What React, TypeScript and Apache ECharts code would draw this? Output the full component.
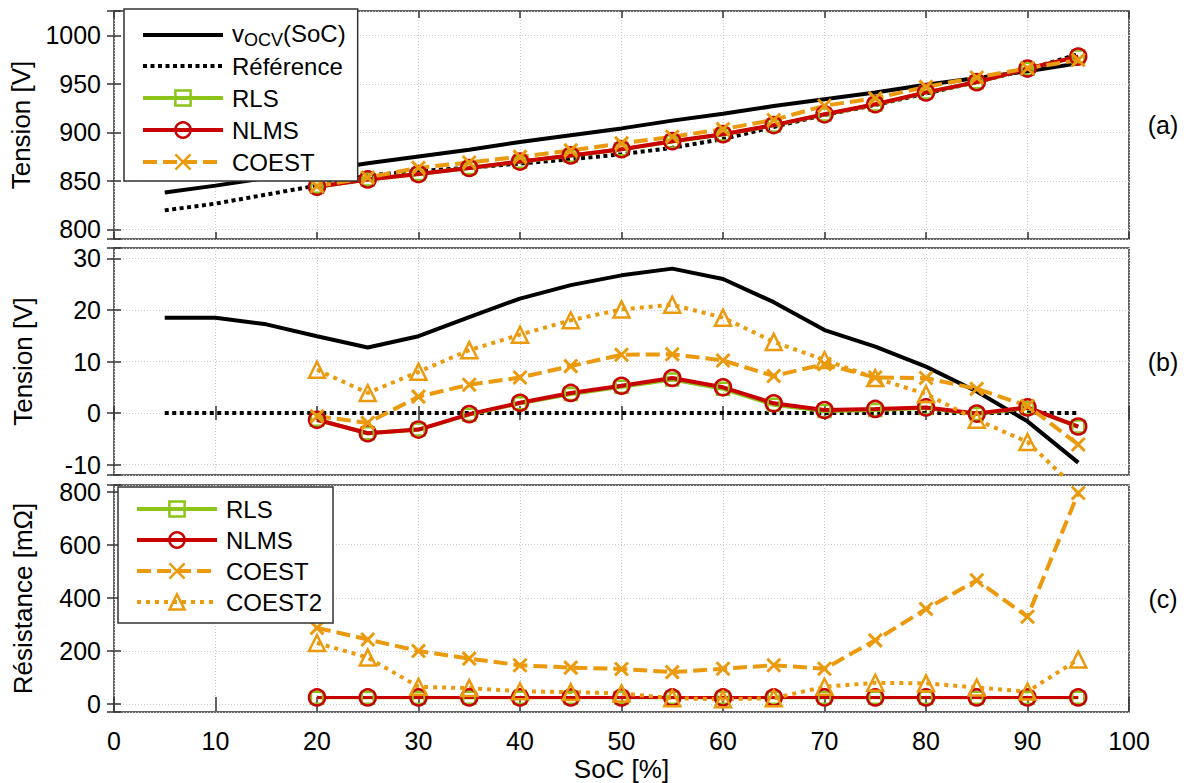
import React, { useEffect, useRef } from 'react';
import * as echarts from 'echarts';

// ---------- data ----------
const SOC_ALL = [5, 10, 15, 20, 25, 30, 35, 40, 45, 50, 55, 60, 65, 70, 75, 80, 85, 90, 95];
const SOC_EST = [20, 25, 30, 35, 40, 45, 50, 55, 60, 65, 70, 75, 80, 85, 90, 95];

// (a) Tension [V]
const VOCV_A = [838, 845, 853, 860, 868, 875, 882, 890, 897, 904, 912, 919, 927, 934, 941, 949, 956, 963, 971];
const REF_A = [819.5, 826.5, 835.8, 845.1, 855.3, 860.1, 863.4, 867.8, 872.2, 877.3, 884.0, 893.0, 905.5, 917.9, 928.1, 940.0, 951.8, 964.6, 980.6];
const RLS_A = [843.8, 851.4, 856.9, 863.1, 869.7, 875.9, 882.4, 890.5, 897.7, 907.1, 918.3, 928.7, 941.0, 951.6, 965.6, 978.0];
const NLMS_A = [843.8, 851.4, 856.9, 863.2, 869.8, 876.1, 882.6, 890.8, 898.0, 907.4, 918.5, 928.9, 941.1, 951.7, 965.7, 978.0];
const COEST_A = [844.5, 853.4, 863.3, 868.9, 874.7, 881.3, 888.6, 895.4, 903.2, 912.7, 927.4, 935.0, 946.8, 956.5, 966.0, 974.5];

// (b) Tension [V] (écart à la référence)
const VOCV_B = [18.5, 18.5, 17.2, 14.9, 12.7, 14.9, 18.6, 22.2, 24.8, 26.7, 28.0, 26.0, 21.5, 16.1, 12.9, 9.0, 4.2, -1.6, -9.6];
const REF_B = [0, 0, 0, 0, 0, 0, 0, 0, 0, 0, 0, 0, 0, 0, 0, 0, 0, 0, 0];
const RLS_B = [-1.3, -3.9, -3.2, -0.3, 1.9, 3.7, 5.1, 6.5, 4.7, 1.6, 0.4, 0.6, 1.0, -0.2, 1.0, -2.6];
const NLMS_B = [-1.3, -3.9, -3.2, -0.2, 2.0, 3.9, 5.3, 6.8, 5.0, 1.9, 0.6, 0.8, 1.1, -0.1, 1.1, -2.6];
const COEST_B = [-0.6, -1.9, 3.2, 5.5, 6.9, 9.1, 11.3, 11.4, 10.2, 7.2, 9.5, 6.9, 6.8, 4.7, 1.4, -6.1];
const COEST2_B = [8.4, 3.9, 8.0, 12.2, 15.2, 18.0, 20.1, 21.0, 18.5, 13.8, 10.3, 6.8, 3.7, -1.3, -5.6, -15.0];

// (c) Résistance [mΩ]
const RLS_C = [24, 24, 24, 24, 24, 24, 24, 24, 24, 24, 24, 24, 24, 24, 24, 24];
const NLMS_C = [25, 25, 25, 25, 25, 25, 25, 25, 25, 25, 25, 25, 25, 25, 25, 25];
const COEST_C = [287, 243, 200, 171, 146, 137, 132, 120, 133, 146, 133, 240, 358, 466, 329, 795];
const COEST2_C = [230, 175, 65, 60, 48, 45, 40, 22, 18, 22, 65, 80, 78, 62, 47, 168];

const PANEL_LABELS = ['(a)', '(b)', '(c)'];
const Y_NAMES = ['Tension [V]', 'Tension [V]', 'Résistance [mΩ]'];

// ---------- style ----------
const FONT = '"Liberation Sans", Arial, Helvetica, sans-serif';
const AX = '#333333';
const GRIDC = '#cccccc';
const BLACK = '#000000';
const GREEN = '#8CC41A';
const RED = '#C80000';
const ORANGE = '#EB9A0E';
const CLEAR = 'rgba(0,0,0,0)';
const XPATH = 'path://M0,0L13,13M13,0L0,13';

const PANELS = [
  { top: 11, height: 228, min: 790, max: 1025, step: 50 },
  { top: 248, height: 227, min: -12, max: 32, step: 10 },
  { top: 485, height: 227, min: -30, max: 825, step: 200 },
];

const pairs = (xs: number[], ys: number[]) => xs.map((x, i) => [x, ys[i]]);

type Kind = 'vocv' | 'ref' | 'rls' | 'nlms' | 'coest' | 'coest2';
const STYLES: Record<Kind, any> = {
  vocv: { color: BLACK, type: 'solid', symbol: 'none', size: 0 },
  ref: { color: BLACK, type: [4, 3.5], symbol: 'none', size: 0 },
  rls: { color: GREEN, type: 'solid', symbol: 'rect', size: 12 },
  nlms: { color: RED, type: 'solid', symbol: 'circle', size: 16 },
  coest: { color: ORANGE, type: [14, 6], symbol: XPATH, size: 13 },
  coest2: { color: ORANGE, type: [4, 5], symbol: 'triangle', size: 16 },
};

function mk(name: string, kind: Kind, xs: number[], ys: number[], gi: number, width = 4) {
  const s = STYLES[kind];
  const noSym = s.symbol === 'none';
  return {
    type: 'line',
    name,
    xAxisIndex: gi,
    yAxisIndex: gi,
    data: pairs(xs, ys),
    symbol: noSym ? 'circle' : s.symbol,
    symbolSize: s.size,
    showSymbol: !noSym,
    lineStyle: { color: s.color, width, type: s.type, cap: 'butt' },
    itemStyle: noSym
      ? { color: CLEAR, borderColor: CLEAR, borderWidth: 0 }
      : { color: CLEAR, borderColor: s.color, borderWidth: kind === 'coest' ? 3 : 2.5 },
    emphasis: { disabled: true },
    clip: true,
  };
}

const isTick = (v: number, step: number) => Math.abs(v / step - Math.round(v / step)) < 1e-6;

export default function App() {
  const ref = useRef<HTMLDivElement>(null);
  useEffect(() => {
    if (!ref.current) return;
    const chart = echarts.init(ref.current, undefined, { renderer: 'svg' });

    const grids = PANELS.map((p) => ({
      left: 114,
      right: 59,
      top: p.top,
      height: p.height,
      show: true,
      borderColor: AX,
      borderWidth: 1.5,
      backgroundColor: 'rgba(0,0,0,0)',
    }));

    const tickStyle = { inside: true, length: 7, lineStyle: { color: AX, width: 1.5 } };
    const splitStyle = { show: true, lineStyle: { color: GRIDC, width: 1, type: [1, 2] } };

    const xAxes: any[] = [];
    PANELS.forEach((_, i) => {
      xAxes.push({
        type: 'value', gridIndex: i, min: 0, max: 100, interval: 10, position: 'bottom',
        axisLine: { show: false }, axisTick: tickStyle,
        axisLabel: { show: i === 2, fontSize: 25, color: BLACK, fontFamily: FONT, margin: 16 },
        splitLine: splitStyle,
        name: i === 2 ? 'SoC [%]' : '', nameLocation: 'middle', nameGap: 44,
        nameTextStyle: { fontSize: 26, color: BLACK, fontFamily: FONT },
      });
    });
    PANELS.forEach((_, i) => {
      xAxes.push({
        type: 'value', gridIndex: i, min: 0, max: 100, interval: 10, position: 'top',
        axisLine: { show: false }, axisTick: tickStyle, axisLabel: { show: false }, splitLine: { show: false },
      });
    });

    const yAxes: any[] = [];
    PANELS.forEach((p, i) => {
      yAxes.push({
        type: 'value', gridIndex: i, min: p.min, max: p.max, minInterval: p.step, maxInterval: p.step, splitNumber: 5,
        position: 'left',
        axisLine: { show: false }, axisTick: tickStyle,
        axisLabel: {
          fontSize: 25, color: BLACK, fontFamily: FONT, margin: 13,
          formatter: (v: number) => (isTick(v, p.step) ? String(Math.round(v)) : ''),
        },
        splitLine: splitStyle,
        name: Y_NAMES[i], nameLocation: 'middle', nameGap: 78,
        nameTextStyle: { fontSize: 26, color: BLACK, fontFamily: FONT },
      });
    });
    PANELS.forEach((p, i) => {
      yAxes.push({
        type: 'value', gridIndex: i, min: p.min, max: p.max, minInterval: p.step, maxInterval: p.step, splitNumber: 5,
        position: 'right',
        axisLine: { show: false }, axisTick: tickStyle, axisLabel: { show: false }, splitLine: { show: false },
      });
    });

    const series = [
      mk('vOCV(SoC)', 'vocv', SOC_ALL, VOCV_A, 0),
      mk('Référence', 'ref', SOC_ALL, REF_A, 0),
      mk('RLS', 'rls', SOC_EST, RLS_A, 0),
      mk('NLMS', 'nlms', SOC_EST, NLMS_A, 0),
      mk('COEST', 'coest', SOC_EST, COEST_A, 0),

      mk('vOCV(SoC)', 'vocv', SOC_ALL, VOCV_B, 1),
      mk('Référence', 'ref', SOC_ALL, REF_B, 1),
      mk('RLS', 'rls', SOC_EST, RLS_B, 1),
      mk('NLMS', 'nlms', SOC_EST, NLMS_B, 1),
      mk('COEST', 'coest', SOC_EST, COEST_B, 1),
      mk('COEST2', 'coest2', SOC_EST, COEST2_B, 1),

      mk('RLS', 'rls', SOC_EST, RLS_C, 2, 3),
      mk('NLMS', 'nlms', SOC_EST, NLMS_C, 2, 3),
      mk('COEST', 'coest', SOC_EST, COEST_C, 2),
      mk('COEST2', 'coest2', SOC_EST, COEST2_C, 2),
    ];

    const legendBase = {
      orient: 'vertical',
      selectedMode: false,
      backgroundColor: '#ffffff',
      borderColor: AX,
      borderWidth: 1.5,
      borderRadius: 0,
      itemWidth: 80,
      itemHeight: 19,
      align: 'left',
      lineStyle: { width: 4 },
      itemStyle: { borderWidth: 2.5 },
    };

    chart.setOption({
      animation: false,
      grid: grids,
      xAxis: xAxes,
      yAxis: yAxes,
      series,
      legend: [
        {
          ...legendBase,
          left: 124,
          top: 9,
          padding: [4, 12, 4, 17],
          itemGap: 2,
          data: ['vOCV(SoC)', 'Référence', 'RLS', 'NLMS', 'COEST'],
          formatter: (name: string) => (name === 'vOCV(SoC)' ? '{n|v}{s|OCV}{n|(SoC)}' : name),
          textStyle: {
            fontSize: 24, color: BLACK, fontFamily: FONT, lineHeight: 30, padding: [0, 0, 0, 4],
            rich: {
              n: { fontSize: 24, fontFamily: FONT, color: BLACK, lineHeight: 28, verticalAlign: 'top' },
              s: { fontSize: 18, fontFamily: FONT, color: BLACK, lineHeight: 20, padding: [18, 0, 0, 0], verticalAlign: 'bottom' },
            },
          },
        },
        {
          ...legendBase,
          left: 118,
          top: 487,
          padding: [7, 11, 6, 17],
          itemGap: 1,
          data: ['RLS', 'NLMS', 'COEST', 'COEST2'],
          textStyle: { fontSize: 24, color: BLACK, fontFamily: FONT, lineHeight: 30, padding: [0, 0, 0, 4] },
        },
      ],
      graphic: PANEL_LABELS.map((t, i) => ({
        type: 'text',
        x: 1163,
        y: PANELS[i].top + PANELS[i].height / 2,
        style: { text: t, fontSize: 25, fontFamily: FONT, fill: BLACK, align: 'center', verticalAlign: 'middle' },
      })),
    });

    return () => chart.dispose();
  }, []);

  return <div ref={ref} style={{ position: 'absolute', left: 0, top: 0, width: 1188, height: 783, background: '#fff' }} />;
}
